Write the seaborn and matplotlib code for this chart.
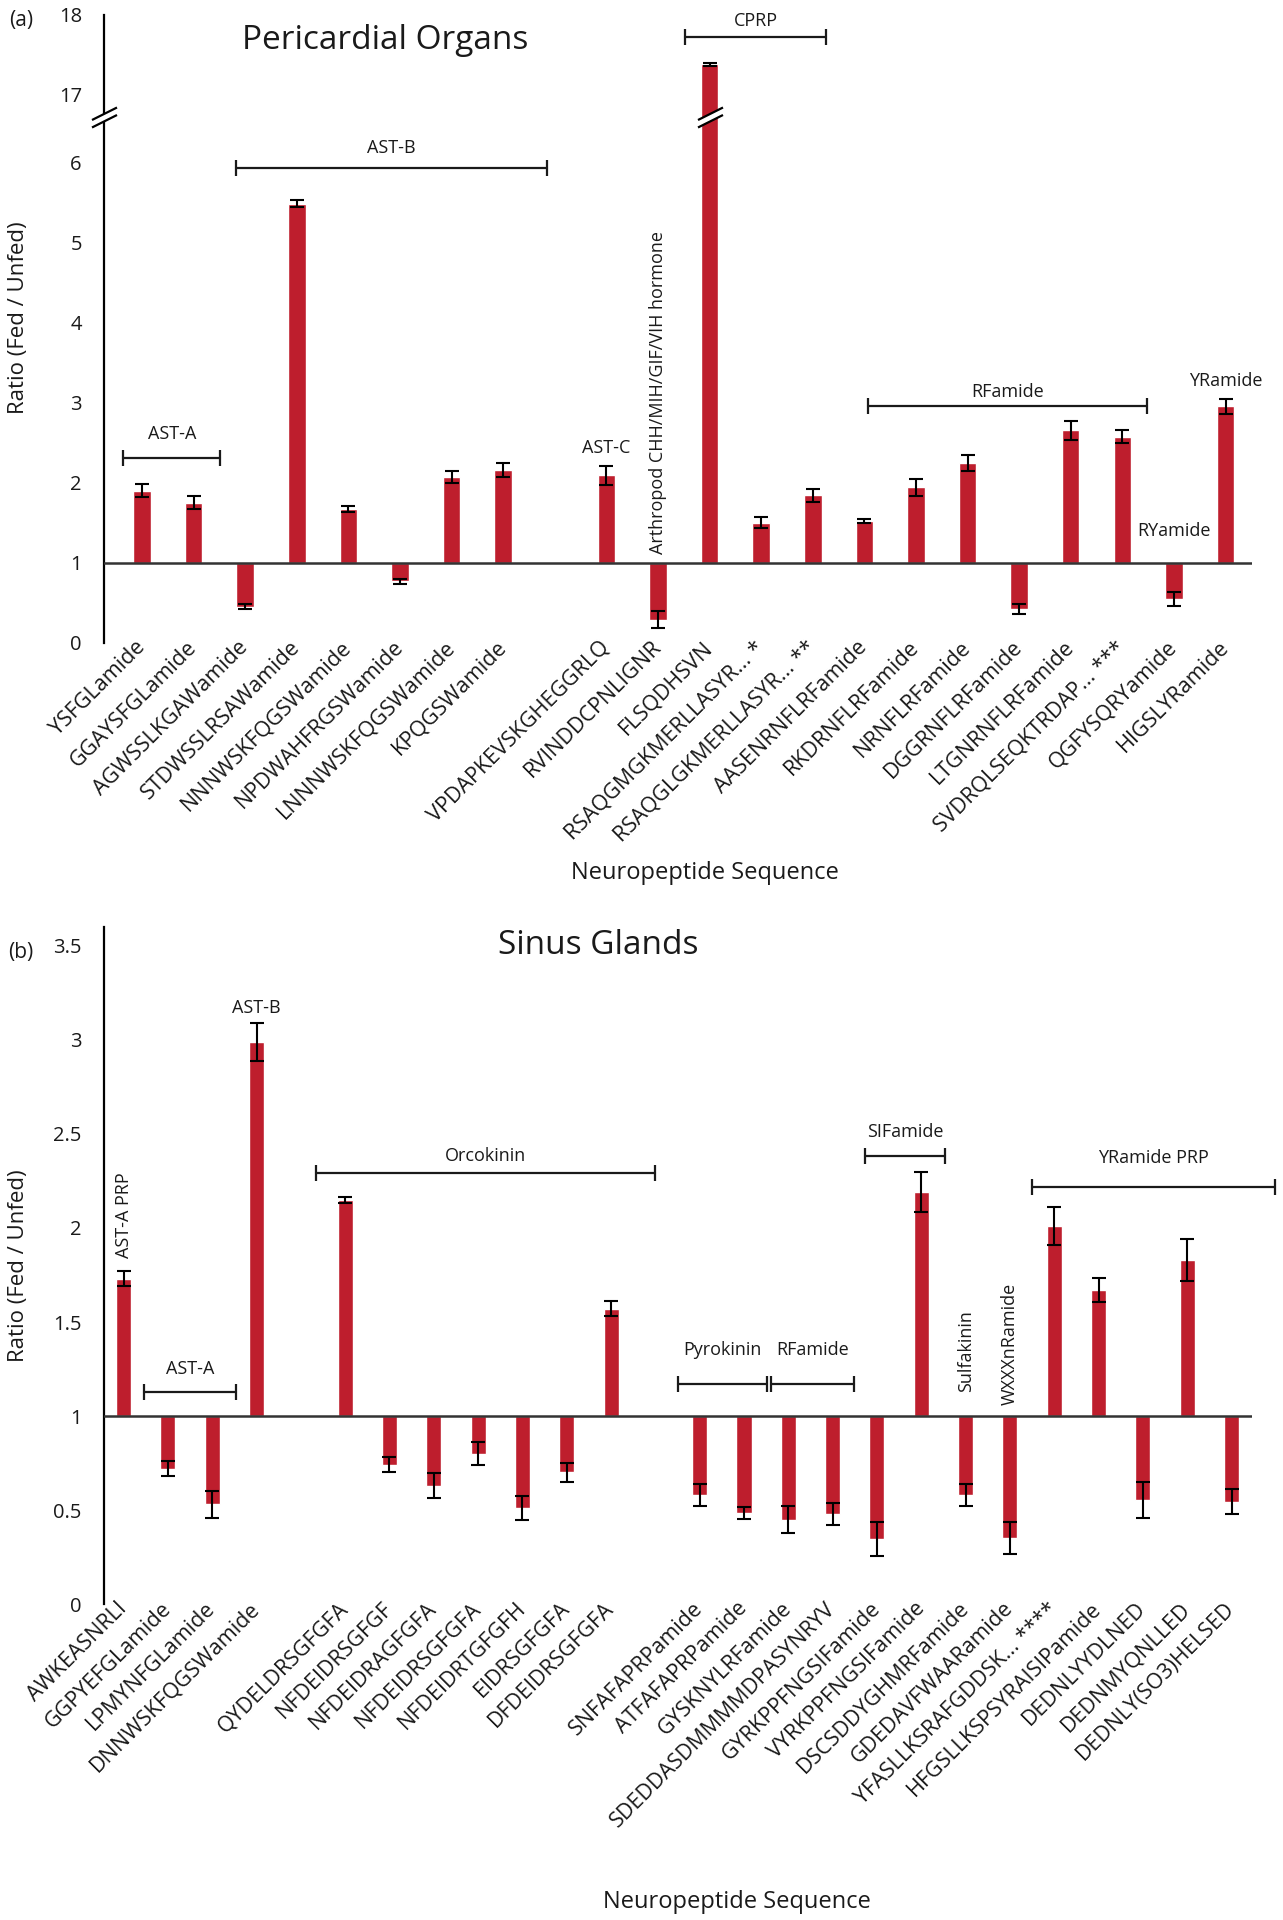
import numpy as np
import pandas as pd
import matplotlib
matplotlib.use("Agg")
import matplotlib.pyplot as plt
from matplotlib.path import Path
import seaborn as sns

sns.set_theme(style="white")
plt.rcParams["font.family"] = ["Open Sans", "DejaVu Sans"]

# (a) Pericardial Organs
po_peptides = ["YSFGLamide", "GGAYSFGLamide", "AGWSSLKGAWamide", "STDWSSLRSAWamide",
               "NNNWSKFQGSWamide", "NPDWAHFRGSWamide", "LNNNWSKFQGSWamide", "KPQGSWamide",
               "VPDAPKEVSKGHEGGRLQ", "RVINDDCPNLIGNR", "FLSQDHSVN",
               "RSAQGMGKMERLLASYR... *", "RSAQGLGKMERLLASYR... **", "AASENRNFLRFamide",
               "RKDRNFLRFamide", "NRNFLRFamide", "DGGRNFLRFamide", "LTGNRNFLRFamide",
               "SVDRQLSEQKTRDAP... ***", "QGFYSQRYamide", "HIGSLYRamide"]
po_ratio = [1.90, 1.75, 0.45, 5.48, 1.67, 0.77, 2.07, 2.16, 2.09, 0.29, 17.38,
            1.50, 1.84, 1.52, 1.94, 2.24, 0.42, 2.65, 2.57, 0.55, 2.95]
po_err = [0.08, 0.08, 0.03, 0.04, 0.035, 0.03, 0.08, 0.09, 0.12, 0.11, 0.02,
          0.07, 0.085, 0.02, 0.11, 0.10, 0.06, 0.115, 0.08, 0.09, 0.09]

# (b) Sinus Glands
sg_peptides = ["AWKEASNRLI", "GGPYEFGLamide", "LPMYNFGLamide", "DNNWSKFQGSWamide",
               "QYDELDRSGFGFA", "NFDEIDRSGFGF", "NFDEIDRAGFGFA", "NFDEIDRSGFGFA",
               "NFDEIDRTGFGFH", "EIDRSGFGFA", "DFDEIDRSGFGFA", "SNFAFAPRPamide",
               "ATFAFAPRPamide", "GYSKNYLRFamide", "SDEDDASDMMMMDPASYNRYV",
               "GYRKPPFNGSIFamide", "VYRKPPFNGSIFamide", "DSCSDDYGHMRFamide",
               "GDEDAVFWAARamide", "YFASLLKSRAFGDDSK... ****", "HFGSLLKSPSYRAISIPamide",
               "DEDNLYYDLNED", "DEDNMYQNLLED", "DEDNLY(SO3)HELSED"]
sg_ratio = [1.73, 0.72, 0.53, 2.99, 2.15, 0.74, 0.63, 0.80, 0.51, 0.70, 1.57, 0.58,
            0.485, 0.45, 0.48, 0.345, 2.19, 0.58, 0.35, 2.01, 1.67, 0.555, 1.83, 0.545]
sg_err = [0.04, 0.04, 0.07, 0.10, 0.015, 0.04, 0.065, 0.06, 0.063, 0.05, 0.04, 0.06,
          0.03, 0.07, 0.06, 0.09, 0.105, 0.06, 0.085, 0.10, 0.065, 0.097, 0.11, 0.068]

# category order with blank spacer slots
po_order = po_peptides[:8] + [" "] + po_peptides[8:]
sg_order = sg_peptides[:4] + [" "] + sg_peptides[4:11] + ["  "] + sg_peptides[11:]

# group brackets: label, first, last, pad left, pad right, bracket y, text y
po_groups = [("AST-A", "YSFGLamide", "GGAYSFGLamide", -0.36, 0.52, 2.31, 2.60),
             ("AST-B", "AGWSSLKGAWamide", "KPQGSWamide", -0.17, 0.85, 5.92, 6.17),
             ("CPRP", "FLSQDHSVN", "RSAQGLGKMERLLASYR... **", -0.48, 0.26, 17.72, 17.92),
             ("RFamide", "AASENRNFLRFamide", "SVDRQLSEQKTRDAP... ***", 0.07, 0.48, 2.95, 3.13)]
po_labels = [("AST-C", "VPDAPKEVSKGHEGGRLQ", 2.43), ("RYamide", "QGFYSQRYamide", 1.39),
             ("YRamide", "HIGSLYRamide", 3.27)]
po_vlabels = [("Arthropod CHH/MIH/GIF/VIH hormone", "RVINDDCPNLIGNR", 1.11)]

sg_groups = [("AST-A", "GGPYEFGLamide", "LPMYNFGLamide", -0.53, 0.53, 1.13, 1.25),
             ("Orcokinin", "QYDELDRSGFGFA", "DFDEIDRSGFGFA", -0.65, 1.0, 2.29, 2.38),
             ("Pyrokinin", "SNFAFAPRPamide", "ATFAFAPRPamide", -0.5, 0.53, 1.17, 1.35),
             ("RFamide", "GYSKNYLRFamide", "SDEDDASDMMMMDPASYNRYV", -0.4, 0.48, 1.17, 1.35),
             ("SIFamide", "GYRKPPFNGSIFamide", "VYRKPPFNGSIFamide", -0.27, 0.53, 2.38, 2.51),
             ("YRamide PRP", "YFASLLKSRAFGDDSK... ****", "DEDNLY(SO3)HELSED", -0.5, 0.98, 2.22, 2.37)]
sg_labels = [("AST-B", "DNNWSKFQGSWamide", 3.17)]
sg_vlabels = [("AST-A PRP", "AWKEASNRLI", 1.84), ("Sulfakinin", "DSCSDDYGHMRFamide", 1.13),
              ("WXXXnRamide", "GDEDAVFWAARamide", 1.06)]

RED = "#BE1E2D"
INK = "#1a1a1a"

# broken y axis for panel (a)
B0, B1, GAP = 6.5, 16.9, 0.24


def fwd(y):
    y = np.asarray(y, float)
    return np.where(y <= B0, y, np.where(y >= B1, y - (B1 - B0) + GAP,
                                         B0 + (y - B0) * GAP / (B1 - B0)))


def inv(v):
    v = np.asarray(v, float)
    return np.where(v <= B0, v, np.where(v >= B0 + GAP, v + (B1 - B0) - GAP,
                                         B0 + (v - B0) * (B1 - B0) / GAP))


def draw_panel(ax, names, ratio, err, order):
    df = pd.DataFrame({"peptide": names, "delta": np.array(ratio) - 1})
    sns.barplot(data=df, x="peptide", y="delta", order=order, color=RED, saturation=1,
                width=0.34, bottom=1, errorbar=None, ax=ax, zorder=2)
    pos = [order.index(n) for n in names]
    ax.errorbar(pos, ratio, yerr=err, fmt="none", ecolor="black", elinewidth=1.5,
                capsize=5, capthick=1.5, zorder=3)
    ax.axhline(1, color="#333333", lw=1.8, zorder=4)
    sns.despine(ax=ax, bottom=True)
    ax.spines["left"].set_color("black")
    ax.spines["left"].set_linewidth(1.6)
    ax.set_xticks(range(len(order)), order, rotation=45, ha="right", va="center",
                  rotation_mode="anchor")
    ax.tick_params(axis="x", length=0, pad=1, labelsize=15.5, labelcolor=INK)
    ax.tick_params(axis="y", length=0, pad=16, labelsize=14.5, labelcolor=INK)
    ax.set_ylabel("Ratio (Fed / Unfed)", fontsize=16, color=INK, va="center")
    ax.set_xlabel("Neuropeptide Sequence", fontsize=17, color=INK, va="center")


def annotate(ax, order, groups, labels, vlabels):
    for label, first, last, p0, p1, y, yt in groups:
        x0 = order.index(first) + p0
        x1 = order.index(last) + p1
        ax.plot([x0, x1], [y, y], color=INK, lw=1.6, marker="|", ms=12, mew=1.6,
                clip_on=False, zorder=4)
        ax.text((x0 + x1) / 2, yt, label, ha="center", va="center", fontsize=13, color=INK)
    for label, name, y in labels:
        ax.text(order.index(name), y, label, ha="center", va="center", fontsize=13, color=INK)
    for label, name, y in vlabels:
        ax.text(order.index(name), y, label, rotation=90, ha="center", va="bottom",
                fontsize=13, color=INK)


slashes = Path([(-1, -0.8), (1, 0.2), (-1, -0.2), (1, 0.8)],
               [Path.MOVETO, Path.LINETO, Path.MOVETO, Path.LINETO])
band = Path([(-1, -0.8), (1, 0.2), (1, 0.8), (-1, -0.2), (-1, -0.8)],
            [Path.MOVETO, Path.LINETO, Path.LINETO, Path.LINETO, Path.CLOSEPOLY])

fig = plt.figure(figsize=(12.83, 19.2), dpi=100)
ax_a = fig.add_axes([0.0811, 0.6652, 0.895, 0.3272])
ax_b = fig.add_axes([0.0811, 0.1645, 0.895, 0.3527])

# panel (a)
draw_panel(ax_a, po_peptides, po_ratio, po_err, po_order)
ax_a.set_yscale("function", functions=(fwd, inv))
ax_a.set_ylim(0, 18)
ax_a.set_yticks([0, 1, 2, 3, 4, 5, 6, 17, 18], ["0", "1", "2", "3", "4", "5", "6", "17", "18"])
ax_a.set_xlim(-0.736, len(po_order) - 1 + 0.52)
annotate(ax_a, po_order, po_groups, po_labels, po_vlabels)
ax_a.yaxis.set_label_coords(-0.0746, 0.517)
ax_a.xaxis.set_label_coords(0.523, -0.366)
ax_a.text(0.245, 0.959, "Pericardial Organs", transform=ax_a.transAxes, ha="center",
          va="center", fontsize=24, color=INK)
# axis and bar breaks
brk_y = 9.0
for x, trans in [(0, ax_a.get_yaxis_transform()),
                 (po_order.index("FLSQDHSVN"), ax_a.transData)]:
    ax_a.plot([x], [brk_y], transform=trans, marker=band, ms=18, color="white",
              mec="none", clip_on=False, zorder=6)
    ax_a.plot([x], [brk_y], transform=trans, marker=slashes, ms=18, mfc="none",
              mec="black", mew=1.6, clip_on=False, zorder=7)

# panel (b)
draw_panel(ax_b, sg_peptides, sg_ratio, sg_err, sg_order)
ax_b.set_ylim(0, 3.6)
ticks_b = np.arange(0, 3.51, 0.5)
ax_b.set_yticks(ticks_b, [f"{t:g}" for t in ticks_b])
ax_b.set_xlim(-0.44, len(sg_order) - 1 + 0.47)
annotate(ax_b, sg_order, sg_groups, sg_labels, sg_vlabels)
ax_b.yaxis.set_label_coords(-0.0746, 0.5)
ax_b.xaxis.set_label_coords(0.551, -0.44)
ax_b.text(0.43, 0.972, "Sinus Glands", transform=ax_b.transAxes, ha="center",
          va="center", fontsize=24, color=INK)

fig.text(17 / 1048, 1 - 17 / 1568, "(a)", ha="center", va="center", fontsize=15, color=INK)
fig.text(17 / 1048, 1 - 778 / 1568, "(b)", ha="center", va="center", fontsize=15, color=INK)

fig.savefig("out.png", dpi=100)
